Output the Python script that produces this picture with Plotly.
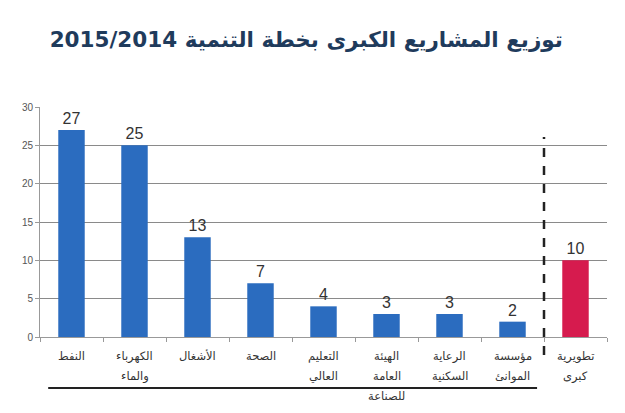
import plotly.graph_objects as go

categories = ["النفط", "الكهرباء والماء", "الأشغال", "الصحة", "التعليم العالي",
              "الهيئة العامة للصناعة", "الرعاية السكنية", "مؤسسة الموانئ", "تطويرية كبرى"]
label_lines = [["النفط"], ["الكهرباء", "والماء"], ["الأشغال"], ["الصحة"],
               ["التعليم", "العالي"], ["الهيئة", "العامة", "للصناعة"],
               ["الرعاية", "السكنية"], ["مؤسسة", "الموانئ"], ["تطويرية", "كبرى"]]
values = [27, 25, 13, 7, 4, 3, 3, 2, 10]
colors = ["#2b6cbf"] * 8 + ["#d61b4e"]
y_ticks = [0, 5, 10, 15, 20, 25, 30]
title_text = "2015/2014 توزيع المشاريع الكبرى بخطة التنمية"

xpos = list(range(len(categories)))
AR_FONT = "DejaVu Sans"

fig = go.Figure()
fig.add_trace(go.Bar(
    x=xpos, y=values, marker=dict(color=colors, line=dict(width=0)),
    width=0.42, text=[str(v) for v in values], textposition="outside",
    textfont=dict(size=16, color="#333333", family="Liberation Sans"),
    cliponaxis=False, hoverinfo="skip",
))

line_y = [-0.083, -0.17, -0.256]
for i, lines in enumerate(label_lines):
    for j, t in enumerate(lines):
        fig.add_annotation(x=xpos[i], y=line_y[j], xref="x", yref="paper",
                           text=t, showarrow=False,
                           font=dict(size=11.5, color="#333333", family=AR_FONT),
                           xanchor="center", yanchor="middle")

# group underline under first eight categories
fig.add_shape(type="line", xref="x", yref="paper", x0=-0.37, x1=7.39,
              y0=-0.222, y1=-0.222, line=dict(color="#222222", width=2))
# dashed separator
fig.add_shape(type="line", xref="x", yref="paper", x0=7.5, x1=7.5,
              y0=-0.078, y1=0.87, line=dict(color="#222222", width=2.5, dash="dash"))

fig.update_layout(
    width=625, height=413,
    margin=dict(l=40, r=18, t=107, b=76),
    paper_bgcolor="white", plot_bgcolor="white",
    showlegend=False,
    title=dict(text="<b>" + title_text + "</b>", x=0.49, xanchor="center", y=0.905,
               yanchor="middle",
               font=dict(size=21.5, color="#1f3b5c", family=AR_FONT)),
    xaxis=dict(range=[-0.5, 8.5], tickvals=[i - 0.5 for i in range(10)],
               ticktext=[""] * 10, ticks="outside", ticklen=4, tickcolor="#999999",
               showgrid=False, zeroline=False, showline=True, linecolor="#999999",
               linewidth=1, fixedrange=True),
    yaxis=dict(range=[0, 30], tickvals=y_ticks, ticks="outside", ticklen=4,
               tickcolor="#999999", showgrid=True, gridcolor="#8a8a8a", gridwidth=1,
               zeroline=False, showline=True, linecolor="#999999",
               tickfont=dict(size=10, color="#555555", family="Liberation Sans"),
               fixedrange=True),
)

fig.write_html("out.html")
